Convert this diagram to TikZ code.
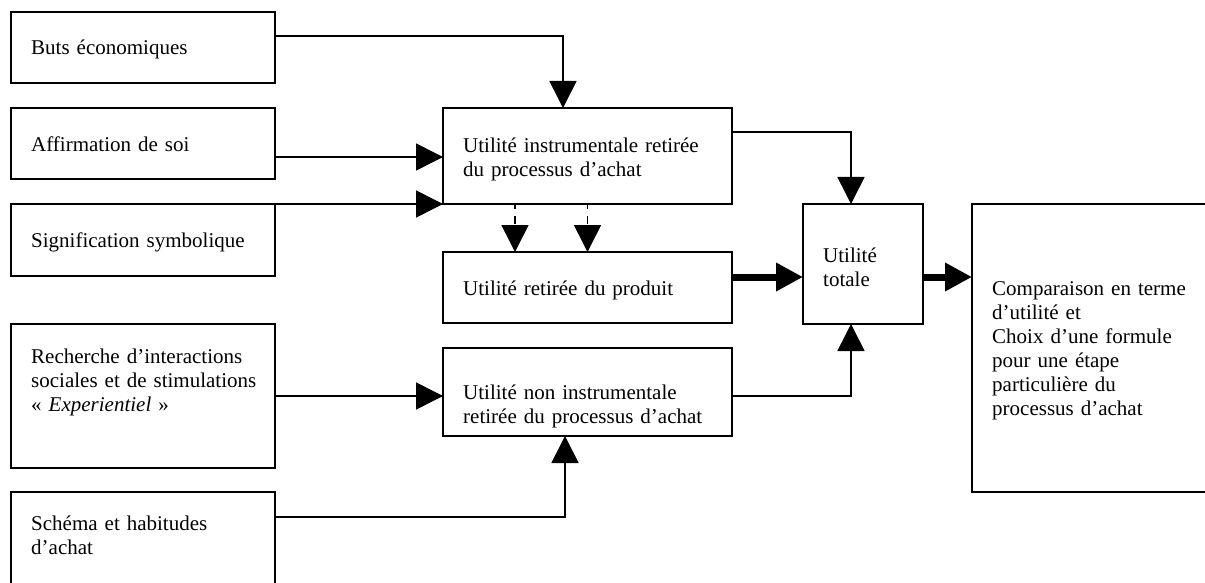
\documentclass[tikz,border=0pt]{standalone}
\usepackage{fontspec}
\setmainfont{Liberation Serif}
\usetikzlibrary{arrows.meta}
\begin{document}
\begin{tikzpicture}
[x=1pt,y=-1pt,
  boxDecorate/.style={draw,line width=1.6pt,inner sep=0pt,outer sep=0pt,anchor=north west},
  textDecorate/.style={anchor=base west,inner sep=0pt,align=left,text width=250pt,
    font=\fontsize{21}{24}\selectfont},
  lineDecorate/.style={line width=1.6pt,-{Triangle[length=27pt,width=27pt]}},
  thickDecorate/.style={line width=7pt,-{Triangle[length=27pt,width=27pt]}},
  dashDecorate/.style={lineDecorate,dash pattern=on 8pt off 7pt,dash phase=3pt}]
\useasboundingbox (0,0) rectangle (1205,583);
\clip (0,0) rectangle (1205,583);
%% boxes
\foreach \name/\x/\y/\w/\h in {
  buts/11/12/264/71, affirm/11/108/264/71, signif/11/204/264/72,
  recherche/11/324/264/144, schema/11/492/264/120,
  instru/443/108/289/96, produit/443/252/289/71, noninstru/443/348/289/88,
  totale/803/204/120/120, compar/972/204/260/288}
{
  \node (\name) at (\x,\y) [boxDecorate,minimum width=\w,minimum height=\h] {};
}
%% texts
\foreach \name/\dy/\txt in {
  buts/43/Buts économiques, affirm/44/Affirmation de soi,
  signif/43/Signification symbolique,
  recherche/39/Recherche d’interactions\\sociales et de stimulations\\« \textit{Experientiel} »,
  schema/38/Schéma et habitudes\\d’achat,
  instru/45/Utilité instrumentale retirée\\du processus d’achat,
  produit/43/Utilité retirée du produit,
  noninstru/51/Utilité non instrumentale\\retirée du processus d’achat,
  totale/58/Utilité\\totale,
  compar/91/Comparaison en terme\\d’utilité et\\Choix d’une formule\\pour une étape\\particulière du\\processus d’achat}
{
  \node (\name Text) at ([shift={(20,\dy)}]\name.north west) [textDecorate] {\txt};
}
%% edges
\draw[lineDecorate] ([yshift=-24pt]buts.north east) -| ([xshift=-24.5pt]instru.north);
\draw[lineDecorate] ([yshift=-13.5pt]affirm.east) -- ([yshift=-13.5pt]affirm.east -| instru.west);
\draw[lineDecorate] (signif.north east) -- (instru.south west);
\draw[lineDecorate] (recherche.east) -- (recherche.east -| noninstru.west);
\draw[lineDecorate] ([yshift=-25pt]schema.north east) -| ([xshift=-22.5pt]noninstru.south);
\draw[dashDecorate] ([xshift=-72.5pt]instru.south) -- ([xshift=-72.5pt]produit.north);
\draw[dashDecorate] (instru.south) -- (produit.north);
\draw[lineDecorate] ([yshift=-24pt]instru.north east) -| ([xshift=-12pt]totale.north);
\draw[lineDecorate] ([yshift=-48pt]noninstru.north east) -| ([xshift=-12pt]totale.south);
\draw[thickDecorate] ([yshift=-25pt]produit.north east) -- ([yshift=-25pt]produit.north east -| totale.west);
\draw[thickDecorate] ([yshift=-73pt]totale.north east) -- ([yshift=-73pt]totale.north east -| compar.west);
\end{tikzpicture}
\end{document}
